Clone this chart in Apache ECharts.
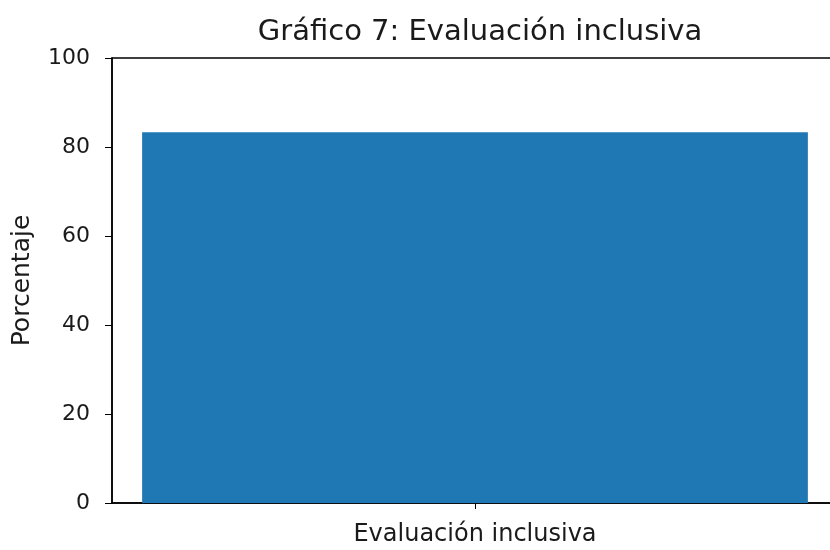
<!DOCTYPE html>
<html>
<head>
<meta charset="utf-8">
<script src="https://cdn.jsdelivr.net/npm/echarts@6/dist/echarts.min.js"></script>
<style>
  html, body { margin: 0; padding: 0; background: #fff; }
  #chart { width: 830px; height: 550px; }
</style>
</head>
<body>
<div id="chart"></div>
<script>
const categories = ['Evaluación inclusiva']
const values = [83.3]
const yTicks = [0, 20, 40, 60, 80, 100]

const chart = echarts.init(document.getElementById('chart'), null, { renderer: 'canvas' })
const font = 'DejaVu Sans'

chart.setOption({
  animation: false,
  title: {
    text: 'Gráfico 7: Evaluación inclusiva',
    left: 475,
    top: 13,
    textAlign: 'center',
    textStyle: { fontFamily: font, fontSize: 29, fontWeight: 'normal', color: '#1a1a1a' }
  },
  grid: {
    left: 112,
    width: 726,
    top: 58,
    bottom: 47,
    containLabel: false,
    outerBoundsMode: 'none',
    show: true,
    borderColor: '#000',
    borderWidth: 1.5
  },
  xAxis: {
    type: 'category',
    data: categories,
    boundaryGap: true,
    axisLine: { lineStyle: { color: '#000', width: 1.5 } },
    axisTick: { show: true, alignWithLabel: true, length: 6, lineStyle: { color: '#000' } },
    axisLabel: { fontFamily: font, fontSize: 24, color: '#1a1a1a', margin: 20 }
  },
  yAxis: {
    type: 'value',
    min: 0,
    max: yTicks[yTicks.length - 1],
    interval: 20,
    name: 'Porcentaje',
    nameLocation: 'middle',
    nameGap: 77,
    nameTextStyle: { fontFamily: font, fontSize: 25, color: '#1a1a1a' },
    axisLine: { show: true, lineStyle: { color: '#000', width: 1.5 } },
    axisTick: { show: true, length: 7, lineStyle: { color: '#000' } },
    splitLine: { show: false },
    axisLabel: { fontFamily: font, fontSize: 22, color: '#1a1a1a', margin: 22 }
  },
  series: [{
    type: 'bar',
    data: values,
    barWidth: '91.7%',
    itemStyle: { color: '#1f77b4' }
  }]
})
</script>
</body>
</html>
